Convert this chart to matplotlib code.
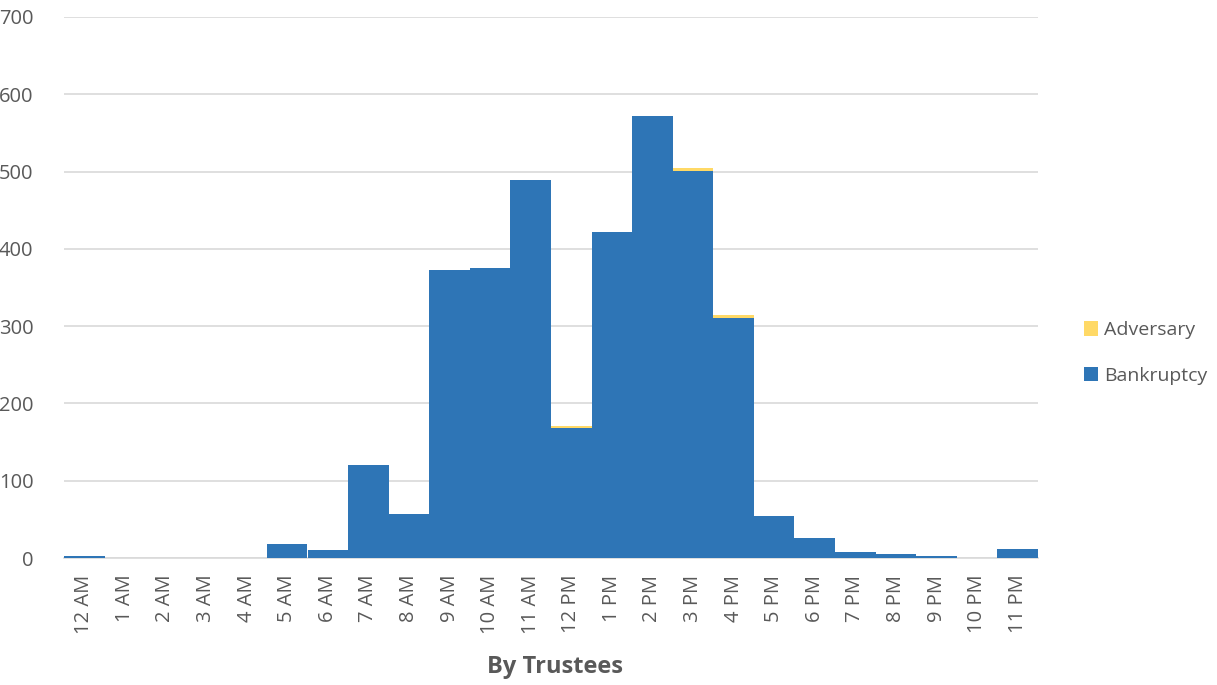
import matplotlib.pyplot as plt
import numpy as np

# Data
hours = ['12 AM', '1 AM', '2 AM', '3 AM', '4 AM', '5 AM', '6 AM', '7 AM', '8 AM',
         '9 AM', '10 AM', '11 AM', '12 PM', '1 PM', '2 PM', '3 PM', '4 PM', '5 PM',
         '6 PM', '7 PM', '8 PM', '9 PM', '10 PM', '11 PM']
bankruptcy = [3, 0, 0, 0, 0, 18, 10, 120, 57, 372, 375, 489, 168, 422, 572, 501,
              310, 54, 26, 8, 5, 2, 0, 11]
adversary = [0, 0, 0, 0, 0, 0, 0, 0, 0, 0, 0, 0, 3, 0, 0, 3, 4, 0, 0, 0, 0, 0, 0, 0]

BLUE = '#2E75B6'
YELLOW = '#FFD966'
TEXT = '#595959'

plt.rcParams['font.family'] = ['Open Sans', 'DejaVu Sans']

fig = plt.figure(figsize=(12.17, 6.85), dpi=100)
ax = fig.add_axes([64 / 1217, 127 / 685, (1038 - 64) / 1217, (558 - 17) / 685])

x = np.arange(len(hours))
ax.bar(x, bankruptcy, width=1.0, color=BLUE, label='Bankruptcy', zorder=3)
ax.bar(x, adversary, width=1.0, bottom=bankruptcy, color=YELLOW,
       label='Adversary', zorder=3)

ax.set_xlim(-0.5, len(hours) - 0.5)
ax.set_ylim(0, 700)
ax.set_yticks(range(0, 701, 100))
ax.yaxis.grid(True, color='#d9d9d9', linewidth=1.2, zorder=0)
ax.set_axisbelow(True)

for s in ['top', 'right', 'left']:
    ax.spines[s].set_visible(False)
ax.spines['bottom'].set_color('#d9d9d9')
ax.spines['bottom'].set_linewidth(1.2)

ax.set_xticks(x)
ax.set_xticklabels(hours, rotation=90, color=TEXT)
ax.tick_params(axis='both', length=0, labelsize=14.5, labelcolor=TEXT)
ax.tick_params(axis='x', pad=12)
ax.tick_params(axis='y', pad=22)

# titre d'axe
fig.text(555 / 1217, 1 - 667 / 685, 'By Trustees', ha='center', va='center',
         fontsize=17, fontweight='bold', color=TEXT)

handles, labels = ax.get_legend_handles_labels()
fig.legend(handles[::-1], labels[::-1], loc='center left',
           bbox_to_anchor=(1066 / 1217, 1 - 353 / 685), frameon=False,
           fontsize=14, labelcolor=TEXT, handlelength=0.75, handleheight=0.75,
           handletextpad=0.3, labelspacing=1.4)

plt.savefig('out.png', dpi=100)
